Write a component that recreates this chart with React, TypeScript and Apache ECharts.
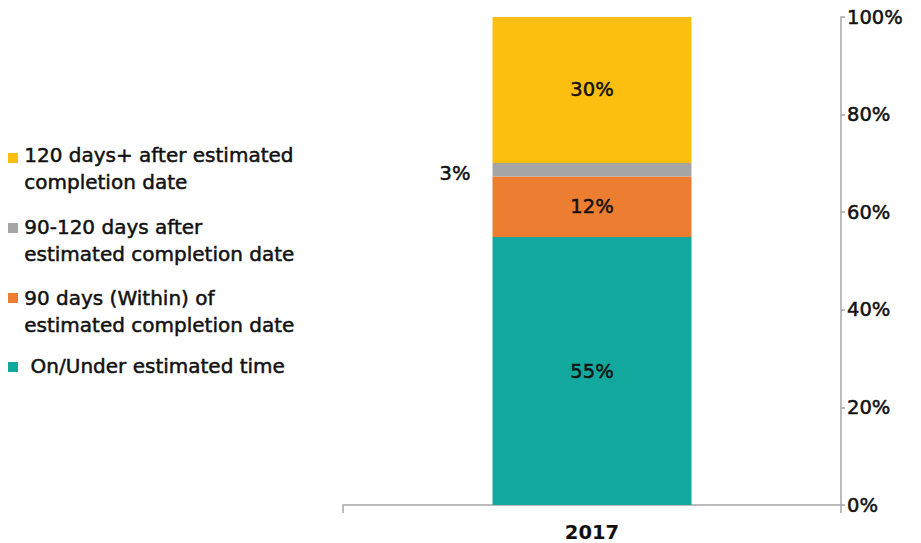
import React, { useEffect, useRef } from "react";
import * as echarts from "echarts";

const categories = ["2017"];
const seriesNames = [
  " On/Under estimated time",
  "90 days (Within) of\nestimated completion date",
  "90-120 days after\nestimated completion date",
  "120 days+ after estimated\ncompletion date",
];
const onUnder = [54.9];
const within90 = [12.4];
const days90to120 = [2.8];
const days120plus = [29.9];
const yTicks = [0, 20, 40, 60, 80, 100];

const colors = ["#13A89E", "#ED7D31", "#A5A5A5", "#FCBF10"];
const FONT = "'DejaVu Sans', sans-serif";
const TXT = "#111111";
const FS = 19.5;
const LFS = 20;
const STROKE = { textBorderColor: TXT, textBorderWidth: 0.5 };

export default function App() {
  const ref = useRef<HTMLDivElement>(null);
  useEffect(() => {
    if (!ref.current) return;
    const chart = echarts.init(ref.current, undefined, { renderer: "svg" });
    const values = [onUnder, within90, days90to120, days120plus];
    const labelFmt = (p: any) => Math.round(p.value) + "%";
    const baseLabel = {
      show: true,
      formatter: labelFmt,
      fontSize: FS,
      fontFamily: FONT,
      color: TXT,
      ...STROKE,
    };
    const series = values.map((v, i) => ({
      name: seriesNames[i],
      type: "bar",
      stack: "total",
      barWidth: 199,
      data: v,
      itemStyle: { color: colors[i] },
      label:
        i === 2
          ? { ...baseLabel, position: "left", distance: 22, offset: [0, 4] }
          : { ...baseLabel, position: "inside" },
    }));

    const legendTops = [352, 284, 213, 141];
    const squareTops = [362, 293, 223, 153];
    const graphic: any[] = [];
    for (let i = 0; i < 4; i++) {
      graphic.push({
        type: "rect",
        left: 8,
        top: squareTops[i],
        shape: { width: 10, height: 10 },
        style: { fill: colors[i] },
      });
      graphic.push({
        type: "text",
        left: 24,
        top: legendTops[i],
        style: {
          text: seriesNames[i],
          fontSize: LFS,
          lineHeight: 27,
          fontFamily: FONT,
          fill: TXT,
          stroke: TXT,
          lineWidth: 0.5,
        },
      });
    }

    chart.setOption({
      animation: false,
      grid: { left: 343, right: 80, top: 17, bottom: 38 },
      xAxis: {
        type: "category",
        data: categories,
        axisLine: { lineStyle: { color: "#A6A6A6", width: 1.5 } },
        axisTick: { show: true, length: 8, lineStyle: { color: "#A6A6A6", width: 1.5 } },
        axisLabel: {
          fontSize: FS,
          fontFamily: FONT,
          fontWeight: "bold",
          color: TXT,
          margin: 17,
        },
      },
      yAxis: {
        type: "value",
        position: "right",
        min: yTicks[0],
        max: yTicks[yTicks.length - 1],
        interval: yTicks[1] - yTicks[0],
        axisLine: { show: true, lineStyle: { color: "#A6A6A6", width: 1.5 } },
        axisTick: { show: true, length: 4, lineStyle: { color: "#A6A6A6", width: 1.5 } },
        splitLine: { show: false },
        axisLabel: {
          formatter: "{value}%",
          fontSize: FS,
          fontFamily: FONT,
          color: TXT,
          margin: 6,
          ...STROKE,
        },
      },
      graphic,
      series,
    });
    return () => chart.dispose();
  }, []);
  return (
    <div
      ref={ref}
      style={{ position: "fixed", left: 0, top: 0, width: 921, height: 543, background: "#fff" }}
    />
  );
}
